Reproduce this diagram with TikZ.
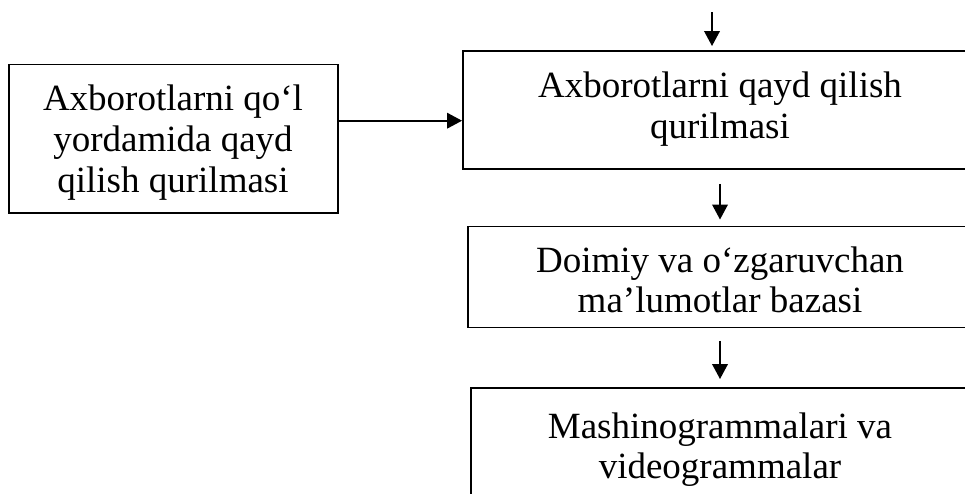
\documentclass[tikz,border=0pt]{standalone}
\usepackage{fontspec}
\setmainfont{Liberation Serif}
\usetikzlibrary{arrows.meta}
\begin{document}
\begin{tikzpicture}[x=1pt,y=-1pt,
  box/.style={draw, line width=1.9pt, inner sep=0pt},
  txt/.style={anchor=base, inner sep=0pt, font=\fontsize{37}{40}\selectfont},
  arr/.style={line width=2pt, -{Triangle[length=15pt,width=15.5pt]}}]
\useasboundingbox (0,0) rectangle (965,493);
\clip (0,0) rectangle (965,493);
% boxes
\node[box, minimum width=329pt, minimum height=148.5pt] (b1) at (173.5,138.75) {};
\node[box, minimum width=514pt, minimum height=118pt] (b2) at (720,110) {};
\node[box, minimum width=504pt, minimum height=101pt] (b3) at (720,277) {};
\node[box, minimum width=498pt, minimum height=122pt] (b4) at (720,449) {};
% texts
\node[txt] (t1a) at (173,110) {Axborotlarni qo‘l};
\node[txt] (t1b) at (173,151) {yordamida qayd};
\node[txt] (t1c) at (173,192) {qilish qurilmasi};
\node[txt] (t2a) at (720,97) {Axborotlarni qayd qilish};
\node[txt] (t2b) at (720,138) {qurilmasi};
\node[txt] (t3a) at (720,272) {Doimiy va o‘zgaruvchan};
\node[txt] (t3b) at (720,312) {ma’lumotlar bazasi};
\node[txt] (t4a) at (720,438) {Mashinogrammalari va};
\node[txt] (t4b) at (720,478) {videogrammalar};
% connectors
\coordinate (top) at (712,12);
\coordinate (hy) at (0,120.7);
\draw[arr, shorten >=4pt] (top) -- (top |- b2.north);
\draw[arr] (b1.east |- hy) -- (b2.west |- hy);
\draw[arr, shorten <=14pt, shorten >=6pt] (b2.south) -- (b3.north);
\draw[arr, shorten <=12.5pt, shorten >=8pt] (b3.south) -- (b4.north);
\end{tikzpicture}
\end{document}
